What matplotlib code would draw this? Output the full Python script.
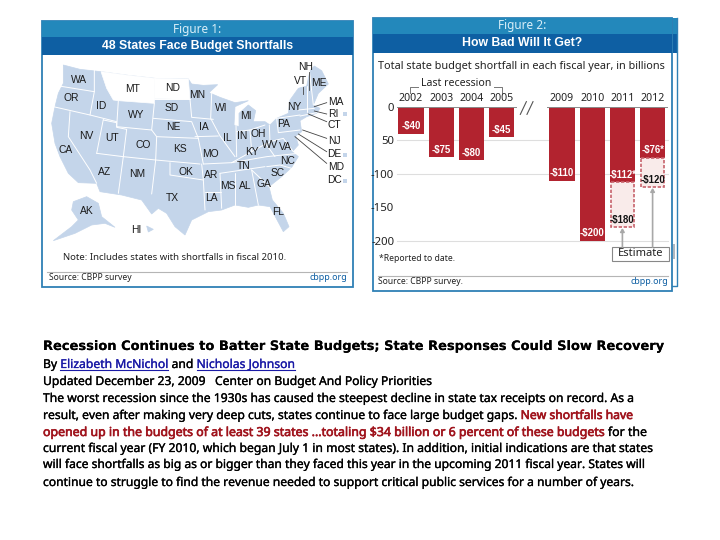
# -*- coding: utf-8 -*-
import matplotlib
matplotlib.use('Agg')
import matplotlib.pyplot as plt
from matplotlib.patches import Rectangle, Polygon
from matplotlib.font_manager import FontProperties
from matplotlib.textpath import TextPath
import matplotlib.patheffects as pe

# bar chart data
years = ['2002', '2003', '2004', '2005', '2009', '2010', '2011', '2012']
positions = [0, 1, 2, 3, 5, 6, 7, 8]
shortfall = [-40, -75, -80, -45, -110, -200, -112, -76]
bar_labels = ['-$40', '-$75', '-$80', '-$45', '-$110', '-$200', '-$112*', '-$76*']
est_positions = [7, 8]
est_values = [-180, -120]
est_bottoms = [-112, -76]
est_labels = ['-$180', '-$120']
yticks = [0, -50, -100, -150, -200]
ytick_labels = ['0', '50', '-100', '-150', '-200']
grid_levels = [-50, -100, -200]

# map (crop pixels, 3x)
us_outline = [(85,165),(135,178),(198,185),(280,196),(360,205),(460,207),(470,222),(505,226),
              (548,224),(522,248),(555,262),(600,278),(640,272),(600,290),(597,345),(612,350),
              (612,310),(640,285),(662,302),(655,335),(690,335),(705,345),(725,325),(760,310),
              (765,270),(790,235),(815,228),(825,182),(838,168),(860,182),(880,222),(850,250),
              (835,285),(855,295),(845,310),(815,320),(795,332),(800,365),(782,378),(790,405),
              (772,425),(790,440),(770,472),(740,500),(702,530),(712,570),(745,610),(762,650),
              (745,665),(722,622),(705,590),(670,585),(640,592),(600,585),(560,600),(520,605),
              (470,630),(450,675),(420,650),(395,610),(370,595),(350,612),(320,570),(260,555),
              (195,545),(185,520),(130,518),(100,490),(75,440),(60,400),(50,340),(60,290),
              (70,250),(85,220)]
alaska = [(115,575),(155,560),(190,580),(200,620),(240,652),(210,640),(170,645),(120,670),
          (55,692),(110,650),(130,630),(110,600)]
hawaii = [(335,648),(355,658),(340,666)]
montana = [(198,185),(280,196),(360,205),(358,280),(250,272),(235,270),(215,235)]
north_dakota = [(360,205),(460,207),(465,268),(359,266)]
state_lines = [
    [(72,228),(178,245)], [(178,178),(178,245),(165,315)], [(55,290),(165,315),(245,335)],
    [(105,305),(100,380),(165,480),(185,520)], [(205,328),(185,430)],
    [(205,330),(245,338),(245,352),(275,358),(265,440)], [(185,430),(265,440),(362,450),(495,462)],
    [(250,272),(245,350),(350,360),(358,280)], [(350,360),(365,380),(362,450)],
    [(265,440),(250,550)], [(362,450),(350,552)], [(358,268),(465,268)],
    [(355,325),(470,335),(490,385)], [(365,380),(490,385),(505,462)],
    [(405,458),(405,495),(505,510),(510,600)], [(465,268),(470,322),(535,328)],
    [(480,380),(550,378)], [(530,250),(527,325),(555,378),(600,440)],
    [(505,462),(590,458)], [(505,510),(500,462)], [(510,545),(558,545)],
    [(555,490),(690,470)], [(555,490),(560,595)], [(600,488),(600,585)], [(650,480),(670,585)],
    [(650,480),(705,532)], [(603,345),(605,440)], [(605,365),(645,360),(650,425)],
    [(645,360),(690,345)], [(703,345),(705,395),(695,405)], [(590,458),(650,425),(695,400)],
    [(590,458),(695,440),(790,430)], [(695,470),(735,465),(770,475)], [(705,395),(745,385),(775,425)],
    [(725,325),(795,315)], [(730,368),(795,360)], [(725,325),(730,368)], [(815,228),(815,305)],
    [(790,300),(838,295)], [(795,318),(845,308)], [(823,182),(835,285)], [(695,405),(720,440)],
]
state_names = ['WA','OR','ID','MT','ND','MN','WI','MI','WY','SD','NE','IA','IL','IN','OH','PA','NY',
               'NV','UT','CO','KS','MO','KY','WV','VA','NC','CA','AZ','NM','OK','AR','TN','SC','MS',
               'AL','GA','TX','LA','FL','AK','HI','NH','VT','ME','MA','RI','CT','NJ','DE','MD','DC']
state_x = [132,110,198,292,412,488,558,634,302,410,416,508,578,622,670,745,778,155,232,324,434,527,
           652,707,752,758,92,208,306,452,528,625,728,578,630,688,412,530,730,157,305,811,797,851,
           903,895,897,897,897,903,899]
state_y = [210,265,288,237,233,255,295,318,315,295,352,350,385,378,372,342,292,378,385,405,418,432,
           425,405,412,454,420,485,492,485,495,467,490,528,527,523,565,563,605,603,660,170,214,218,
           277,311,345,393,433,472,510]
leaders = [[(805,230),(805,252)],[(822,185),(822,240)],[(875,278),(838,290)],[(875,312),(838,303)],
           [(875,335),(820,312)],[(875,385),(803,360)],[(875,425),(790,372)],[(875,460),(780,380)]]
ne_squares_y = [312, 435, 513]

# article text: each line is a list of (text, style) runs
title = 'Recession Continues to Batter State Budgets; State Responses Could Slow Recovery'
body_lines = [
    [('By ', 'k'), ('Elizabeth McNichol', 'l'), (' and ', 'k'), ('Nicholas Johnson', 'l')],
    [('Updated December 23, 2009   Center on Budget And Policy Priorities', 'k')],
    [('The worst recession since the 1930s has caused the steepest decline in state tax receipts on record. As a', 'k')],
    [('result, even after making very deep cuts, states continue to face large budget gaps. ', 'k'),
     ('New shortfalls have', 'r')],
    [('opened up in the budgets of at least 39 states ...totaling $34 billion or 6 percent of these budgets', 'r'),
     (' for the', 'k')],
    [('current fiscal year (FY 2010, which began July 1 in most states). In addition, initial indications are that states', 'k')],
    [('will face shortfalls as big as or bigger than they faced this year in the upcoming 2011 fiscal year. States will', 'k')],
    [('continue to struggle to find the revenue needed to support critical public services for a number of years.', 'k')],
]
body_baselines = [368, 385, 402, 419, 436, 452, 468, 486]
body_ends = [295, 432, 634, 633, 647, 653, 645, 634]

chart_font = ['Noto Sans', 'DejaVu Sans']
bold_font = ['Liberation Sans', 'DejaVu Sans']
teal = '#2388bb'
navy = '#0e5fa3'
edge = '#2f80b5'
map_blue = '#c4d5ea'
red = '#b2232f'
ink = '#222222'

fig = plt.figure(figsize=(7.2, 5.4), dpi=100)
ax = fig.add_axes([0, 0, 1, 1])
ax.set_xlim(0, 720)
ax.set_ylim(540, 0)
ax.axis('off')


def panel(x0, y0, x1, y1, band1, band2, head, sub):
    ax.add_patch(Rectangle((x0, y0), x1 - x0, y1 - y0, fc='white', ec=edge, lw=1.3))
    ax.add_patch(Rectangle((x0, y0), x1 - x0, band1 - y0, fc=teal, ec='none'))
    ax.add_patch(Rectangle((x0, band1), x1 - x0, band2 - band1, fc=navy, ec='none'))
    xm = (x0 + x1) / 2
    ax.text(xm, (y0 + band1) / 2, head, color='#d8eef8', fontsize=8.5, ha='center', va='center', family=chart_font)
    ax.text(xm, (band1 + band2) / 2, sub, color='white', fontsize=8.8, fontweight='bold', ha='center', va='center', family=bold_font)


def mp(pts):
    # crop is 3x, offset 35,10
    return [(p[0] / 3 + 35, p[1] / 3 + 10) for p in pts]


# figure 1
panel(42, 21, 353, 287, 37, 55, 'Figure 1:', '48 States Face Budget Shortfalls')
for shape in [us_outline, alaska, hawaii]:
    ax.add_patch(Polygon(mp(shape), closed=True, fc=map_blue, ec=map_blue, lw=0.5))
for shape in [montana, north_dakota]:
    ax.add_patch(Polygon(mp(shape), closed=True, fc='white', ec='white', lw=0.5))
for seg in state_lines:
    pts = mp(seg)
    ax.plot([p[0] for p in pts], [p[1] for p in pts], color='white', lw=0.7, solid_capstyle='round')
for seg in leaders:
    pts = mp(seg)
    ax.plot([p[0] for p in pts], [p[1] for p in pts], color='#444444', lw=0.6)
for name, sx, sy in zip(state_names, state_x, state_y):
    px, py = mp([(sx, sy)])[0]
    ax.text(px, py, name, fontsize=7.4, color='#1a1a1a', ha='center', va='center', family=bold_font)
for sy in ne_squares_y:
    px, py = mp([(930, sy)])[0]
    ax.add_patch(Rectangle((px - 2, py - 2), 4, 4, fc=map_blue, ec='none'))
ax.text(63, 257, 'Note: Includes states with shortfalls in fiscal 2010.', fontsize=6.9, color=ink, va='center', family=chart_font)
ax.plot([47, 347], [271.5, 271.5], color='#b5b5b5', lw=0.8)
ax.text(49, 278, 'Source: CBPP survey', fontsize=6.2, color=ink, va='center', family=chart_font)
ax.text(347, 278, 'cbpp.org', fontsize=6.4, color=navy, ha='right', va='center', family=chart_font)

# figure 2, with the second frame peeking out behind it
ax.plot([677, 677, 672], [18, 286, 286], color=edge, lw=1)
ax.add_patch(Rectangle((672, 18), 5, 16, fc=teal, ec='none'))
ax.add_patch(Rectangle((672, 34), 5, 19, fc=navy, ec='none'))
ax.add_patch(Rectangle((672.5, 244), 2.5, 15, fc='#b0b8c0', ec='none'))
panel(373, 18, 672, 291, 34, 53, 'Figure 2:', 'How Bad Will It Get?')
ax.text(378, 66, 'Total state budget shortfall in each fiscal year, in billions', fontsize=7.85, color=ink, va='center', family=chart_font)
ax.text(456, 84, 'Last recession', fontsize=7.6, color=ink, ha='center', va='center', family=chart_font)
ax.plot([410, 410, 418], [93, 87, 87], color='#777777', lw=0.7)
ax.plot([494, 502, 502], [87, 87, 93], color='#777777', lw=0.7)
ax.text(379, 258.5, '*Reported to date.', fontsize=6.2, color=ink, va='center', family=chart_font)
ax.plot([378, 668], [275.5, 275.5], color='#b5b5b5', lw=0.8)
ax.text(378, 281, 'Source: CBPP survey.', fontsize=6.2, color=ink, va='center', family=chart_font)
ax.text(668, 281, 'cbpp.org', fontsize=6.4, color=navy, ha='right', va='center', family=chart_font)

# bar axes: zero at y=107, -200 at y=240.7, one step is 30.2 px
left, right, top, bottom = 397, 668, 107, 240.7
bx = fig.add_axes([left / 720, 1 - bottom / 540, (right - left) / 720, (bottom - top) / 540])
bx.patch.set_alpha(0)
bx.set_xlim((left - 411) / 30.2, (right - 411) / 30.2)
bx.set_ylim(-200, 0)
for s in bx.spines.values():
    s.set_visible(False)
bx.set_yticks(yticks)
bx.set_yticklabels(ytick_labels, fontsize=8.2, color=ink, family=chart_font)
bx.set_xticks(positions)
bx.set_xticklabels(years, fontsize=7.6, color=ink, family=chart_font)
bx.xaxis.tick_top()
bx.tick_params(axis='both', length=0, pad=2)
for level in grid_levels:
    bx.axhline(level, color='#dedede', lw=0.8, zorder=1, clip_on=False)
bx.bar(positions, shortfall, width=0.83, color=red, zorder=2)
bx.bar(est_positions, [v - b for v, b in zip(est_values, est_bottoms)], bottom=est_bottoms, width=0.78,
       facecolor='#f9ebea', edgecolor='#c7636c', linestyle=(0, (2, 1)), lw=1.2, zorder=2)
bx.axhline(0, color='#8a8a8a', lw=1.4, zorder=3)
# axis break between 2005 and 2009
bx.add_patch(Rectangle((3.5, -3), 1.0, 6, fc='white', ec='none', zorder=4, clip_on=False))
for off in [3.62, 3.84]:
    bx.plot([off, off + 0.2], [-11, 8], color='#555555', lw=0.8, zorder=5, clip_on=False)
for p, v, lab in zip(positions, shortfall, bar_labels):
    bx.text(p, v + 11, lab, color='white', fontsize=6.9, fontweight='bold', ha='center', va='center', zorder=6, family=bold_font)
for p, v, lab in zip(est_positions, est_values, est_labels):
    bx.text(p, v + 11, lab, color='#111111', fontsize=6.9, fontweight='bold', ha='center', va='center', zorder=6, family=bold_font)
    bx.annotate('', xy=(p, v - 1), xytext=(p, -209.5), zorder=5, annotation_clip=False,
                arrowprops=dict(arrowstyle='-|>,head_width=0.12,head_length=0.2', color='#a8a8a8', lw=1.2, shrinkA=0, shrinkB=0))
ax.add_patch(Rectangle((612, 247), 57, 14, fc='white', ec='#888888', lw=0.8))
ax.text(640.5, 253.7, 'Estimate', fontsize=8, color=ink, ha='center', va='center', family=chart_font)


# article
def run_line(runs, y, x_end, x_start=43, size=8.0, font=chart_font, weight='normal', stroke=0.2):
    styles = {'k': '#000000', 'l': '#1a1aa6', 'r': '#a0141d'}
    prop = FontProperties(family=font, weight=weight)

    def advance(s, fs):
        # stroked text is drawn as paths, so measure paths. the two dots keep trailing spaces counted
        wide = TextPath((0, 0), '.' + s + '.', size=fs, prop=prop).get_extents().width
        dots = TextPath((0, 0), '..', size=fs, prop=prop).get_extents().width
        return (wide - dots) * 100 / 72

    size = size * (x_end - x_start) / advance(''.join(r[0] for r in runs), size)
    x = x_start
    for s, st in runs:
        sw = stroke * 2.2 if st == 'r' else stroke
        t = ax.text(x, y, s, fontsize=size, color=styles[st], fontweight=weight, family=font, va='baseline')
        t.set_path_effects([pe.withStroke(linewidth=sw, foreground=styles[st])])
        adv = advance(s, size)
        if st == 'l':
            ax.plot([x, x + adv], [y + 2, y + 2], color=styles[st], lw=0.8)
        x += adv


run_line([(title, 'k')], 350, 663, size=9, font=['DejaVu Sans'], weight='bold', stroke=0)
for runs, yb, xe in zip(body_lines, body_baselines, body_ends):
    run_line(runs, yb, xe)

fig.savefig('out.png', dpi=100)
